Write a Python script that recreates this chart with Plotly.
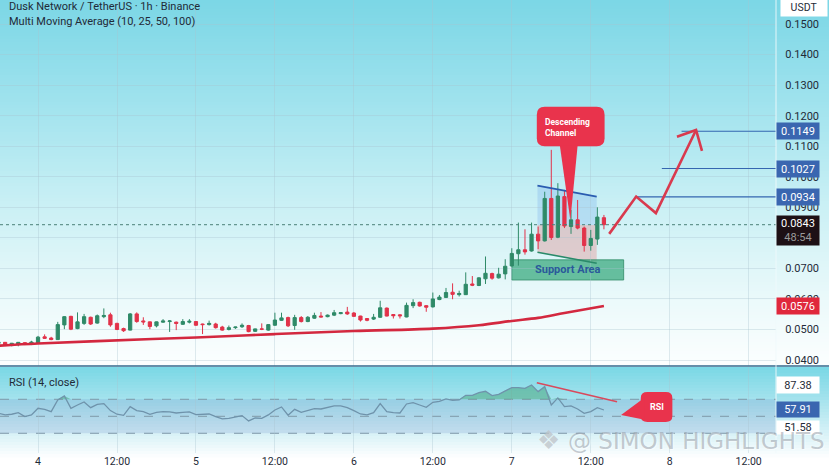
import numpy as np
import plotly.graph_objects as go
from plotly.subplots import make_subplots

# ---- data -------------------------------------------------------------
hours = list(range(-6, 87))
opens = [.0455,.0458,.0449,.0452,.0457,.0453,.0455,.0476,.0472,.0467,.0515,.0543,.0503,.0520,.0540,.0521,
         .0542,.0548,.0520,.0503,.0498,.0551,.0528,.0525,.0512,.0524,.0526,.0524,.0517,.0524,.0526,.0518,
         .0516,.0518,.0508,.0500,.0506,.0509,.0513,.0494,.0502,.0498,.0514,.0530,.0539,.0513,.0539,.0526,
         .0537,.0544,.0542,.0547,.0552,.0557,.0554,.0544,.0536,.0534,.0540,.0570,.0549,.0548,.0541,.0578,
         .0589,.0578,.0574,.0598,.0605,.0622,.0614,.0614,.0649,.0644,.0666,.0683,.0669,.0682,.0708,.0748,
         .0761,.0757,.0812,.0790,.0929,.0802,.0935,.0837,.0859,.0832,.0775,.0796,.0866]
closes = [.0458,.0449,.0455,.0458,.0452,.0459,.0475,.0471,.0467,.0516,.0542,.0501,.0525,.0542,.0518,.0545,
          .0546,.0515,.0500,.0496,.0551,.0526,.0525,.0510,.0525,.0528,.0528,.0520,.0526,.0527,.0514,.0516,
          .0520,.0506,.0498,.0506,.0508,.0514,.0493,.0502,.0501,.0516,.0531,.0538,.0512,.0539,.0526,.0540,
          .0546,.0541,.0547,.0555,.0555,.0551,.0543,.0531,.0530,.0540,.0571,.0544,.0545,.0545,.0579,.0588,
          .0577,.0573,.0600,.0606,.0621,.0615,.0618,.0648,.0645,.0669,.0684,.0668,.0681,.0707,.0749,.0761,
          .0754,.0812,.0790,.0929,.0801,.0937,.0839,.0859,.0832,.0775,.0798,.0868,.0843]
highs = [.0460,.0459,.0456,.0459,.0458,.0463,.0479,.0484,.0476,.0525,.0544,.0545,.0556,.0551,.0542,.0549,
         .0569,.0555,.0522,.0506,.0554,.0556,.0540,.0526,.0526,.0534,.0531,.0526,.0534,.0534,.0527,.0519,
         .0529,.0522,.0512,.0513,.0509,.0520,.0515,.0503,.0520,.0518,.0555,.0555,.0542,.0548,.0544,.0544,
         .0555,.0557,.0549,.0564,.0557,.0574,.0557,.0545,.0537,.0551,.0594,.0572,.0550,.0550,.0588,.0599,
         .0591,.0580,.0621,.0613,.0636,.0651,.0627,.0687,.0675,.0671,.0739,.0686,.0702,.0730,.0766,.0850,
         .0828,.0850,.0837,.0951,.1088,.0979,.0957,.0891,.0924,.0837,.0826,.0900,.0875]
lows = [.0453,.0447,.0445,.0445,.0449,.0449,.0453,.0469,.0465,.0466,.0501,.0498,.0501,.0515,.0515,.0519,
        .0537,.0509,.0498,.0492,.0497,.0522,.0515,.0501,.0507,.0522,.0492,.0498,.0515,.0520,.0512,.0485,
        .0513,.0503,.0496,.0497,.0502,.0505,.0491,.0492,.0498,.0496,.0512,.0528,.0508,.0499,.0523,.0524,
        .0535,.0540,.0540,.0544,.0550,.0548,.0542,.0526,.0527,.0531,.0538,.0543,.0536,.0536,.0540,.0570,
        .0575,.0558,.0572,.0596,.0603,.0599,.0608,.0613,.0642,.0642,.0649,.0663,.0667,.0664,.0706,.0709,
        .0745,.0755,.0763,.0788,.0793,.0799,.0832,.0813,.0828,.0755,.0758,.0777,.0828]
rsi = [53.5,51.6,52.4,54.3,49.6,51.6,59.4,58.2,55.5,69.2,73.9,59.4,63.3,66.9,60.2,64.1,64.9,56.7,52.4,51.2,
       61.4,56.7,55.5,52.4,54.7,55.5,55.1,53.9,54.7,55.1,52.0,52.7,52.7,49.6,46.9,47.6,48.8,50.8,44.5,48.0,
       47.6,51.6,57.4,61.0,51.2,58.2,54.7,57.0,59.0,58.6,60.6,62.2,62.2,60.2,56.7,52.7,51.6,54.3,64.9,55.5,
       54.3,53.9,64.5,66.0,63.3,60.6,66.5,67.6,70.4,68.8,69.2,74.7,74.7,77.8,79.4,74.3,75.9,80.2,83.7,83.7,
       82.9,86.8,79.0,84.9,63.3,71.6,61.4,62.2,58.6,53.5,55.5,60.2,57.4]
ma_hours = [-6, 0, 9, 24, 36, 48, 60, 67, 72, 76, 80, 86]
ma_vals = [.0447, .0454, .0462, .0474, .0485, .0495, .0503, .0514, .0528, .0538, .0554, .0577]
path_hours = [86.8, 90.9, 93.9, 100.0]
path_prices = [.0813, .0935, .0881, .1153]
head_hours = [97.1, 100.0, 100.9]
head_prices = [.1131, .1153, .1085]
level_prices = [.1149, .1027, .0934]
level_starts = [97.8, 94.8, 90.7]
level_labels = ["0.1149", "0.1027", "0.0934"]
last_price = .0843
ma_last = .0576
tick_hours = [0, 12, 24, 36, 48, 60, 72, 84, 96, 108]
tick_labels = ["4", "12:00", "5", "12:00", "6", "12:00", "7", "12:00", "8", "12:00"]
price_ticks = [.04, .05, .06, .07, .08, .09, .10, .11, .12, .13, .14, .15]
rsi_trend_hours = [75.8, 88.0]
rsi_trend_vals = [89.5, 67.2]

X_RANGE = [-5.78, 112.15]
Y_RANGE = [.03805, .15786]
RSI_RANGE = [6.8, 108]
PANE_H = 453.0

fig = make_subplots(rows=2, cols=1, shared_xaxes=True, vertical_spacing=0)

# ---- background gradient ----------------------------------------------
def hexrgb(h):
    return [int(h[i:i+2], 16) for i in (1, 3, 5)]

def bands(stops_y, stops_c, step=3):
    rgb = np.array([hexrgb(c) for c in stops_c], float)
    out = []
    for y in np.arange(stops_y[0], stops_y[-1], step):
        c = [int(np.interp(y, stops_y, rgb[:, k])) for k in range(3)]
        out.append(dict(type="rect", xref="paper", yref="paper", layer="below",
                        x0=-0.001, x1=829 / 776.0, y0=1 - y / PANE_H, y1=1 - (y + step + .5) / PANE_H,
                        fillcolor=f"rgb({c[0]},{c[1]},{c[2]})", line_width=0))
    return out

shapes = []
shapes += bands([0, 100, 200, 300, 366], ["#7cd7e6", "#a0e3ee", "#c9f0f5", "#ecfafb", "#fdffff"])
shapes += bands([367, 400, 440, 456], ["#7bd8e6", "#a8e4ee", "#e4f6fa", "#ffffff"])

def rounded(x0, x1, y0, y1, rx, ry):
    return (f"M{x0+rx},{y1} L{x1-rx},{y1} Q{x1},{y1} {x1},{y1-ry} L{x1},{y0+ry} Q{x1},{y0} {x1-rx},{y0} "
            f"L{x0+rx},{y0} Q{x0},{y0} {x0},{y0+ry} L{x0},{y1-ry} Q{x0},{y1} {x0+rx},{y1} Z")

# RSI band
shapes.append(dict(type="rect", xref="x2", yref="y2", layer="below", x0=X_RANGE[0], x1=X_RANGE[1],
                   y0=30, y1=70, fillcolor="rgba(70,90,180,0.14)", line_width=0))
for v in (70, 50, 30):
    shapes.append(dict(type="line", xref="x2", yref="y2", layer="below", x0=X_RANGE[0], x1=X_RANGE[1],
                       y0=v, y1=v, line=dict(color="#7f98a8", width=1, dash="dash")))
# channel + support area
shapes += [
    dict(type="path", xref="x", yref="y", layer="below",
         path="M75.9,.0971 L84.9,.0935 L84.9,.0842 L75.9,.0842 Z", fillcolor="rgba(90,150,230,0.22)", line_width=0),
    dict(type="path", xref="x", yref="y", layer="below",
         path="M75.9,.0842 L84.9,.0842 L84.9,.0717 L75.9,.0753 Z", fillcolor="rgba(232,110,110,0.30)", line_width=0),
    dict(type="line", xref="x", yref="y", x0=75.9, x1=84.9, y0=.0971, y1=.0935, line=dict(color="#2a5cb0", width=1.6)),
    dict(type="line", xref="x", yref="y", x0=75.9, x1=84.9, y0=.0753, y1=.0717, line=dict(color="#2a8a6a", width=1.6)),
    dict(type="rect", xref="x", yref="y", layer="below", x0=72, x1=89, y0=.0662, y1=.0728,
         fillcolor="rgba(70,175,135,0.8)", line=dict(color="rgba(50,140,105,0.8)", width=1)),
]
# callouts
shapes.append(dict(type="path", xref="x", yref="y", fillcolor="#e9334c", line_width=0,
                   path=rounded(75.8, 86.1, .1100, .1229, 1.2, .0026)))
shapes.append(dict(type="path", xref="x", yref="y", fillcolor="#e9334c", line_width=0,
                   path="M79.3,.1102 L82.0,.1102 L80.9,.0858 Z"))
shapes.append(dict(type="path", xref="x2", yref="y2", fillcolor="#e9334c", line_width=0,
                   path=rounded(91.6, 96.4, 43.3, 78.6, 1.0, 7)))
shapes.append(dict(type="path", xref="x2", yref="y2", fillcolor="#e9334c", line_width=0,
                   path="M92.2,72 L88.6,51.5 L92.2,46 Z"))
# pane separator, axis border
shapes.append(dict(type="line", xref="paper", yref="paper", x0=0, x1=829 / 776.0,
                   y0=1 - 366 / PANE_H, y1=1 - 366 / PANE_H, line=dict(color="#33688c", width=1.5)))
shapes.append(dict(type="line", xref="paper", yref="paper", x0=1, x1=1, y0=0, y1=1,
                   line=dict(color="rgba(240,250,252,0.9)", width=1)))

# ---- marks -------------------------------------------------------------
GREEN, RED = "#2f8a68", "#e2324a"
fig.add_trace(go.Candlestick(x=hours, open=opens, high=highs, low=lows, close=closes,
                             increasing=dict(line=dict(color=GREEN, width=1), fillcolor=GREEN),
                             decreasing=dict(line=dict(color=RED, width=1), fillcolor=RED),
                             whiskerwidth=0, hoverinfo="skip"), row=1, col=1)
fig.add_trace(go.Scatter(x=ma_hours, y=ma_vals, mode="lines", line=dict(color="#d3283f", width=2.6, shape="spline"),
                         hoverinfo="skip"), row=1, col=1)
fig.add_trace(go.Scatter(x=X_RANGE, y=[last_price, last_price], mode="lines",
                         line=dict(color="#4a7f78", width=1, dash="dot"), hoverinfo="skip"), row=1, col=1)
for p, s in zip(level_prices, level_starts):
    fig.add_trace(go.Scatter(x=[s, X_RANGE[1]], y=[p, p], mode="lines", line=dict(color="#3566b0", width=1.2),
                             hoverinfo="skip"), row=1, col=1)
fig.add_trace(go.Scatter(x=path_hours, y=path_prices, mode="lines", line=dict(color="#d93a4e", width=2.6),
                         hoverinfo="skip"), row=1, col=1)
fig.add_trace(go.Scatter(x=head_hours, y=head_prices, mode="lines", line=dict(color="#d93a4e", width=2.6),
                         hoverinfo="skip"), row=1, col=1)

# RSI pane
over = np.maximum(np.array(rsi), 70).tolist()
fig.add_trace(go.Scatter(x=hours, y=[70] * len(hours), mode="lines", line=dict(width=0), hoverinfo="skip"), row=2, col=1)
fig.add_trace(go.Scatter(x=hours, y=over, mode="lines", line=dict(width=0), fill="tonexty",
                         fillcolor="rgba(55,155,105,0.45)", hoverinfo="skip"), row=2, col=1)
fig.add_trace(go.Scatter(x=hours, y=rsi, mode="lines", line=dict(color="#6f93ab", width=1.3), hoverinfo="skip"), row=2, col=1)
fig.add_trace(go.Scatter(x=rsi_trend_hours, y=rsi_trend_vals, mode="lines", line=dict(color="#d9495c", width=1.6),
                         hoverinfo="skip"), row=2, col=1)

# ---- text --------------------------------------------------------------
FONT = "Roboto"
DARK = "#1f2b38"
def txt(x, y, s, size=11, color=DARK, xref="paper", yref="paper", xanchor="left", yanchor="middle", **kw):
    return dict(x=x, y=y, text=s, xref=xref, yref=yref, xanchor=xanchor, yanchor=yanchor, showarrow=False,
                font=dict(family=FONT, size=size, color=color), **kw)

def tag(y, s, bg, color="#ffffff", yref="y", h=14, **kw):
    return dict(x=1, y=y, xref="paper", yref=yref, xanchor="left", yanchor="middle", showarrow=False, text=s,
                font=dict(family=FONT, size=11, color=color), bgcolor=bg, width=40, height=h, borderpad=1, **kw)

ann = [
    txt(7 / 776, 1 - 6.5 / PANE_H, "Dusk Network / TetherUS · 1h · Binance", 11),
    txt(7 / 776, 1 - 21 / PANE_H, "Multi Moving Average (10, 25, 50, 100)", 11),
    txt(7 / 776, 1 - 382 / PANE_H, "RSI (14, close)", 11),
    txt(80.5, .1160, "<b>Descending<br>Channel</b>", 8.5, "#ffffff", "x", "y", "center", align="left"),
    txt(80.6, .0695, "<b>Support Area</b>", 11, "#2a5a9a", "x", "y", "center"),
    txt(94, 61, "<b>RSI</b>", 9, "#ffffff", "x2", "y2", "center"),
]
for p, lab in zip(level_prices, level_labels):
    ann.append(tag(p, lab, "#3a66b0"))
ann.append(tag(last_price, "0.0843<br><span style='color:#9a9a9a'>48:54</span>", "#1d1015", h=27, yshift=-6))
ann.append(tag(ma_last, "0.0576", "#e0283c"))
ann.append(dict(x=780 / 776, y=1 - 8 / PANE_H, xref="paper", yref="paper", xanchor="left", yanchor="middle",
                showarrow=False, text="USDT", font=dict(family=FONT, size=10.5, color=DARK), bgcolor="#ffffff",
                width=44, height=15))
ann.append(tag(87.38, "87.38", "#ffffff", DARK, yref="y2"))
ann.append(tag(57.91, "57.91", "#3a66b0", yref="y2", h=13))
ann.append(dict(x=1, y=1 - 427 / PANE_H, xref="paper", yref="paper", xanchor="left", yanchor="middle", showarrow=False,
                text="51.58", font=dict(family=FONT, size=11, color=DARK), bgcolor="#ffffff", width=40, height=11))
# watermark
ann.append(dict(x=566 / 776, y=1 - 441 / PANE_H, xref="paper", yref="paper", xanchor="left", yanchor="middle",
                showarrow=False, text="@ SIMON HIGHLIGHTS",
                font=dict(family="DejaVu Sans", size=23, color="rgba(150,158,168,0.55)",
                          shadow="1px 1px 1px #ffffff")))
ann.append(dict(x=548 / 776, y=1 - 440 / PANE_H, xref="paper", yref="paper", xanchor="center", yanchor="middle",
                showarrow=False, text="❖", font=dict(family="DejaVu Sans", size=26, color="rgba(190,195,200,0.75)")))

fig.update_layout(
    width=829, height=466, autosize=False, showlegend=False, hovermode=False,
    margin=dict(l=0, r=53, t=0, b=13, autoexpand=False), paper_bgcolor="#ffffff", plot_bgcolor="rgba(0,0,0,0)",
    shapes=shapes, annotations=ann, font=dict(family=FONT, size=11, color=DARK),
)
GRID = "rgba(170,195,205,0.35)"
fig.update_xaxes(range=X_RANGE, tickvals=tick_hours, ticktext=tick_labels, showgrid=True, gridcolor=GRID,
                 gridwidth=1, zeroline=False, showline=False, rangeslider_visible=False, ticks="", automargin=False,
                 tickfont=dict(family=FONT, size=10.5, color=DARK))
fig.update_xaxes(showticklabels=False, row=1, col=1)
fig.update_yaxes(side="right", zeroline=False, showline=False, automargin=False)
fig.update_yaxes(range=Y_RANGE, domain=[1 - 366 / PANE_H, 1], tickvals=price_ticks, tickformat=".4f", showgrid=True,
                 gridcolor=GRID, ticks="outside", ticklen=6, tickcolor="rgba(0,0,0,0)",
                 tickfont=dict(family=FONT, size=11, color=DARK), row=1, col=1)
fig.update_yaxes(range=RSI_RANGE, domain=[0, 1 - 367 / PANE_H], showgrid=False, showticklabels=False, row=2, col=1)

fig.write_html("out.html", config=dict(displayModeBar=False),
               post_script="document.body.style.margin='0';document.body.style.overflow='hidden';")
